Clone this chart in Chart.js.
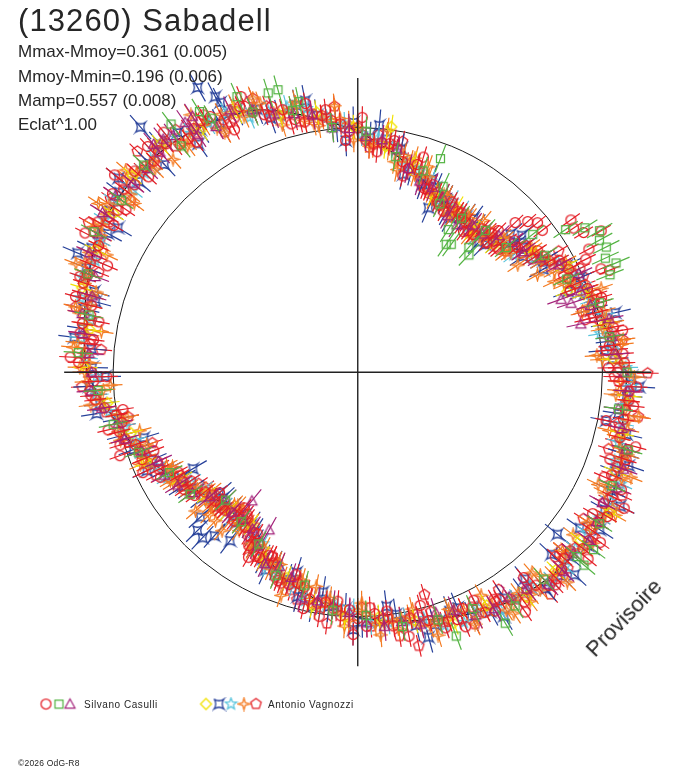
<!DOCTYPE html>
<html>
<head>
<meta charset="utf-8">
<script src="https://cdn.jsdelivr.net/npm/chart.js@4.4.1/dist/chart.umd.min.js"></script>
<style>
html, body { margin: 0; padding: 0; background: #fff; }
#wrap { position: relative; width: 688px; height: 768px; overflow: hidden;
        font-family: "Liberation Sans", Arial, sans-serif; color: #262626; }
#wrap canvas { position: absolute; left: 0; top: 0; }
.t { position: absolute; white-space: nowrap; }
#titre { left: 18px; top: 5px; font-size: 31px; line-height: 31px; letter-spacing: 1.1px; }
.stat { left: 18px; font-size: 17px; line-height: 17px; }
.leg { top: 700px; font-size: 10px; line-height: 10px; letter-spacing: 0.55px; }
#copy { left: 18px; top: 759px; font-size: 8.5px; line-height: 8.5px; letter-spacing: 0.2px; }
#provisoire { left: 575px; top: 607px; width: 98px; font-size: 22px; line-height: 22px;
              text-align: center; transform: rotate(-46deg); transform-origin: 50% 50%; }
</style>
</head>
<body>
<div id="wrap">
  <canvas id="myChart" width="688" height="768"></canvas>
  <div class="t" id="titre">(13260) Sabadell</div>
  <div class="t stat" style="top:43px">Mmax-Mmoy=0.361 (0.005)</div>
  <div class="t stat" style="top:68px">Mmoy-Mmin=0.196 (0.006)</div>
  <div class="t stat" style="top:92px">Mamp=0.557 (0.008)</div>
  <div class="t stat" style="top:116px">Eclat^1.00</div>
  <div class="t leg" style="left:84px">Silvano Casulli</div>
  <div class="t leg" style="left:268px">Antonio Vagnozzi</div>
  <div class="t" id="copy">©2026 OdG-R8</div>
  <div class="t" id="provisoire">Provisoire</div>
</div>
<script>
// phase en degres (0 en haut, sens horaire), rayon normalise (cercle = 1)

// Silvano Casulli
const cerclesRouges = [
  [0,.997],[4,.933],[8,.942],[12,.878],[16,.882],[20,.798],[24,.804],[28,.744],[32,.773],[36,.754],
  [40,.733],[44,.788],[48,.764],[52,.828],[56,.887],[60,.906],[64,.959],[68,.961],[72,1.027],[76,1.010],
  [80,1.060],[84,1.034],[88,1.090],[92,1.068],[96,1.114],[100,1.103],[104,1.104],[108,1.153],[112,1.119],[116,1.157],
  [120,1.178],[124,1.149],[128,1.168],[132,1.134],[136,1.171],[140,1.134],[144,1.158],[148,1.094],[152,1.109],[156,1.055],
  [160,1.081],[164,1.054],[168,1.025],[172,1.045],[176,.987],[180,1.005],[184,.996],[188,.947],[192,.946],[196,.894],
  [200,.915],[204,.852],[208,.856],[212,.776],[216,.782],[220,.722],[224,.782],[228,.785],[232,.793],[236,.856],
  [240,.840],[244,.904],[248,.951],[252,.955],[256,1.004],[260,1.002],[264,1.079],[268,1.082],[272,1.141],[276,1.101],
  [280,1.143],[284,1.121],[288,1.179],[292,1.180],[296,1.179],[300,1.226],[304,1.182],[308,1.214],[312,1.227],[316,1.198],
  [320,1.217],[324,1.177],[328,1.210],[332,1.166],[336,1.186],[340,1.118],[344,1.114],[348,1.044],[352,1.057],[356,1.016],
  [2,.948],[6,.943],[10,.927],[14,.857],[18,.833],[22,.825],[26,.758],[30,.778],[34,.760],[38,.733],
  [42,.779],[46,.771],[50,.837],[54,.827],[58,.893],[62,.942],[66,.943],[70,.999],[74,1.036],[78,1.012],
  [82,1.040],[86,1.086],[90,1.063],[94,1.111],[98,1.105],[102,1.093],[106,1.147],[110,1.131],[114,1.179],[118,1.137],
  [122,1.160],[126,1.168],[130,1.134],[134,1.158],[138,1.170],[142,1.123],[146,1.119],[150,1.125],[154,1.066],[158,1.088],
  [162,1.064],[166,1.029],[170,1.053],[174,1.011],[178,1.037],[182,.970],[186,.968],[190,.956],[194,.903],[198,.910],
  [202,.901],[206,.831],[210,.809],[214,.803],[218,.736],[222,.772],[226,.780],[230,.779],[234,.843],[238,.843],
  [242,.913],[246,.897],[250,.949],[254,.989],[258,.986],[262,1.046],[266,1.098],[270,1.089],[274,1.114],[278,1.146],
  [282,1.116],[286,1.170],[290,1.176],[294,1.169],[298,1.221],[302,1.199],[306,1.239],[310,1.190],[314,1.209],[318,1.217],
  [322,1.180],[326,1.199],[330,1.205],[334,1.153],[338,1.145],[342,1.140],[346,1.063],[350,1.070],[354,1.033],[358,.984],
  [1,1.040],[5,.903],[9,.957],[13,.822],[17,.918],[21,.802],[25,.768],[29,.794],[33,.776],[37,.718],
  [41,.775],[45,.746],[49,.764],[53,.858],[57,.849],[61,.941],[65,1.002],[69,.931],[73,1.042],[77,.954],
  [81,1.096],[85,1.021],[89,1.025],[93,1.141],[97,1.136],[101,1.034],[105,1.176],[109,1.090],[113,1.094],[117,1.222],
  [121,1.120],[125,1.210],[129,1.211],[133,1.104],[137,1.186],[141,1.078],[145,1.194],[149,1.081],[153,1.044],[157,1.128],
  [161,1.103],[165,.985],[169,1.097],[173,.982],[177,.962],[181,1.070],[185,.938],[189,1.008],[193,.989],[197,.864],
  [201,.910],[205,.827],[209,.859],[213,.780],[217,.746],[221,.772],[225,.785],[229,.749],[233,.835],[237,.814],
  [241,.840],[245,.969],[249,.893],[253,1.016],[257,1.047],[261,.972],[265,1.094],[269,1.026],[273,1.177],[277,1.088],
  [281,1.078],[285,1.194],[289,1.201],[293,1.111],[297,1.251],[301,1.163],[305,1.157],[309,1.279],[313,1.169],[317,1.259],
  [321,1.260],[325,1.147],[329,1.225],[333,1.110],[337,1.222],[341,1.105],[345,1.049],[349,1.117],[353,1.079],[357,.947],
  [46.5,.887],[48.5,.928],[50.3,.955],[52.5,.951],[44.8,.815],[54.5,1.07],[56.3,1.06],[58.3,1.085],[59.9,1.15],
  [62,1.07],[63.7,1.04],[67,1.08],[68,1.11],[212.2,.836],[210.6,.877],[219.8,.79],[250.7,1.03]
];
const carresVerts = [
  [2,.984],[10,.893],[18,.864],[26,.765],[34,.758],[42,.779],[50,.792],[58,.901],[66,.935],[74,1.028],
  [82,1.040],[90,1.101],[98,1.076],[106,1.150],[114,1.138],[122,1.166],[130,1.170],[138,1.136],[146,1.150],[154,1.073],
  [162,1.062],[170,1.053],[178,.992],[186,.976],[194,.895],[202,.893],[210,.809],[218,.774],[226,.751],[234,.846],
  [242,.872],[250,.955],[258,1.022],[266,1.064],[274,1.145],[282,1.123],[290,1.174],[298,1.221],[306,1.194],[314,1.217],
  [322,1.172],[330,1.197],[338,1.145],[346,1.101],[354,1.004],
  [55.6,1.03],[57.6,1.10],[59.7,1.145],[61.4,1.125],[63.3,1.137],[65.3,1.114],[67.1,1.146],[68.9,1.105],[51.8,.91],
  [21.2,.935],[24.7,.835],[34.7,.635],[36.2,.647],[43.5,.66],[41.7,.683],[32.4,.69],[344.2,1.198],[342.2,1.197],
  [336.3,1.228],[347.7,1.13],[323,1.268],[328.7,1.245],[159.5,1.149],[149.5,1.188],[130.4,1.214],[126.9,1.205]
];
const trianglesViolets = [
  [6,.954],[14,.856],[22,.814],[30,.737],[38,.763],[46,.802],[54,.837],[62,.933],[70,.969],[78,1.050],
  [86,1.054],[94,1.107],[102,1.104],[110,1.156],[118,1.132],[126,1.170],[134,1.169],[142,1.122],[150,1.114],[158,1.047],
  [166,1.059],[174,1.042],[182,.980],[190,.947],[198,.880],[206,.869],[214,.771],[222,.768],[230,.790],[238,.868],
  [246,.892],[254,.991],[262,1.057],[270,1.088],[278,1.135],[286,1.129],[294,1.199],[302,1.230],[310,1.200],[318,1.208],
  [326,1.169],[334,1.191],[342,1.108],[350,1.066],[358,.995],
  [2,.963],[10,.921],[18,.820],[26,.794],[34,.726],[42,.759],[50,.823],[58,.880],[66,.989],[74,.989],
  [82,1.050],[90,1.088],[98,1.075],[106,1.139],[114,1.160],[122,1.150],[130,1.149],[138,1.164],[146,1.106],[154,1.102],
  [162,1.030],[170,1.033],[178,1.023],[186,.955],[194,.949],[202,.854],[210,.819],[218,.761],[226,.750],[234,.835],
  [242,.894],[250,.939],[258,1.001],[266,1.092],[274,1.101],[282,1.152],[290,1.142],[298,1.201],[306,1.225],[314,1.196],
  [322,1.226],[330,1.158],[338,1.155],[346,1.088],[354,1.003],
  [327.1,1.244],[325.3,1.24],[318.1,1.25],[320.1,1.24],[70.3,.883],[72.1,.916],[77.8,.933],[219.5,.68],[209.4,.738]
];

// Antonio Vagnozzi
const losangesJaunes = [
  [7,.928],[15,.882],[23,.788],[31,.786],[39,.746],[47,.762],[55,.857],[63,.957],[71,.977],[79,1.028],
  [87,1.044],[95,1.114],[103,1.109],[111,1.127],[119,1.179],[127,1.139],[135,1.143],[143,1.148],[151,1.088],[159,1.096],
  [167,1.042],[175,1.002],[183,1.000],[191,.971],[199,.888],[207,.847],[215,.761],[223,.775],[231,.795],[239,.839],
  [247,.939],[255,.960],[263,1.031],[271,1.114],[279,1.109],[287,1.178],[295,1.182],[303,1.190],[311,1.220],[319,1.232],
  [327,1.177],[335,1.169],[343,1.098],[351,1.073],[359,1.000],
  [69,.917],[7.8,1.01]
];
const etoilesBleues = [
  [3,.958],[11,.928],[19,.812],[27,.791],[35,.773],[43,.726],[51,.819],[59,.888],[67,.987],[75,.992],
  [83,1.045],[91,1.118],[99,1.079],[107,1.135],[115,1.141],[123,1.180],[131,1.144],[139,1.171],[147,1.098],[155,1.099],
  [163,1.077],[171,1.000],[179,1.019],[187,.963],[195,.947],[203,.857],[211,.814],[219,.791],[227,.754],[235,.831],
  [243,.875],[251,.969],[259,.996],[267,1.099],[275,1.093],[283,1.149],[291,1.189],[299,1.168],[307,1.221],[315,1.204],
  [323,1.224],[331,1.161],[339,1.150],[347,1.118],[355,1.007],
  [7,.959],[15,.854],[23,.817],[31,.734],[39,.764],[47,.782],[55,.824],[63,.959],[71,.982],[79,1.036],
  [87,1.043],[95,1.103],[103,1.128],[111,1.127],[119,1.154],[127,1.175],[135,1.174],[143,1.120],[151,1.117],[159,1.044],
  [167,1.060],[175,1.022],[183,.967],[191,.973],[199,.893],[207,.855],[215,.760],[223,.764],[231,.814],[239,.839],
  [247,.914],[255,.996],[263,1.062],[271,1.086],[279,1.138],[287,1.126],[295,1.200],[303,1.210],[311,1.187],[319,1.234],
  [327,1.182],[335,1.177],[343,1.097],[351,1.062],[359,1.019],
  [5,1.011],[13,.829],[21,.842],[29,.752],[37,.785],[45,.736],[53,.848],[61,.867],[69,.921],[77,1.080],
  [85,1.012],[93,1.152],[101,1.034],[109,1.172],[117,1.204],[125,1.108],[133,1.212],[141,1.085],[149,1.161],[157,1.043],
  [165,1.119],[173,.962],[181,1.050],[189,.908],[197,.854],[205,.890],[213,.776],[221,.778],[229,.749],[237,.855],
  [245,.951],[253,.914],[261,1.080],[269,1.033],[277,1.168],[285,1.109],[293,1.245],[301,1.143],[309,1.259],[317,1.159],
  [325,1.137],[333,1.236],[341,1.096],[349,1.128],[357,.947],
  [318.4,1.337],[330.6,1.333],[332.6,1.266],[47.9,.84],[50.2,.873],[23.3,.73],[129,1.05],[133.2,1.085],
  [225.4,.92],[223.2,.927],[221.3,.888],[217.2,.863],[227.4,.873],[239.7,.78]
];
const etoilesCyan = [
  [5,.959],[13,.864],[21,.835],[29,.798],[37,.740],[45,.770],[53,.796],[61,.934],[69,.974],[77,1.028],
  [85,1.040],[93,1.120],[101,1.100],[109,1.111],[117,1.161],[125,1.145],[133,1.160],[141,1.120],[149,1.131],[157,1.109],
  [165,1.040],[173,1.027],[181,.973],[189,.975],[197,.907],[205,.870],[213,.782],[221,.774],[229,.782],[237,.814],
  [245,.908],[253,.951],[261,1.028],[269,1.068],[277,1.138],[285,1.175],[293,1.166],[301,1.208],[309,1.182],[317,1.226],
  [325,1.190],[333,1.184],[341,1.124],[349,1.096],[357,1.013],
  [1,.973],[9,.935],[17,.855],[25,.773],[33,.784],[41,.738],[49,.800],[57,.852],[65,.969],[73,1.001],
  [81,1.004],[89,1.096],[97,1.107],[105,1.103],[113,1.168],[121,1.155],[129,1.144],[137,1.164],[145,1.131],[153,1.078],
  [161,1.092],[169,1.030],[177,1.023],[185,.961],[193,.956],[201,.889],[209,.800],[217,.788],[225,.775],[233,.792],
  [241,.889],[249,.928],[257,.980],[265,1.072],[273,1.114],[281,1.112],[289,1.190],[297,1.184],[305,1.218],[313,1.192],
  [321,1.227],[329,1.184],[337,1.130],[345,1.120],[353,1.050]
];
const etoilesOrange = [
  [2,.946],[6,.942],[10,.872],[14,.884],[18,.839],[22,.796],[26,.805],[30,.739],[34,.759],[38,.766],
  [42,.747],[46,.790],[50,.788],[54,.871],[58,.886],[62,.961],[66,.941],[70,.998],[74,.981],[78,1.039],
  [82,1.046],[86,1.057],[90,1.110],[94,1.072],[98,1.104],[102,1.126],[106,1.115],[110,1.150],[114,1.130],[118,1.181],
  [122,1.153],[126,1.187],[130,1.132],[134,1.157],[138,1.115],[142,1.150],[146,1.125],[150,1.096],[154,1.113],[158,1.049],
  [162,1.063],[166,1.062],[170,1.021],[174,1.030],[178,.988],[182,1.014],[186,.961],[190,.975],[194,.901],[198,.909],
  [202,.846],[206,.858],[210,.815],[214,.774],[218,.783],[222,.733],[226,.779],[230,.812],[234,.811],[238,.862],
  [242,.864],[246,.941],[250,.942],[254,1.008],[258,.984],[262,1.045],[266,1.043],[270,1.116],[274,1.120],[278,1.117],
  [282,1.163],[286,1.131],[290,1.175],[294,1.202],[298,1.189],[302,1.218],[306,1.190],[310,1.234],[314,1.202],[318,1.236],
  [322,1.178],[326,1.198],[330,1.150],[334,1.180],[338,1.151],[342,1.111],[346,1.110],[350,1.031],[354,1.032],[358,1.017],
  [0,.999],[4,.927],[8,.922],[12,.904],[16,.839],[20,.848],[24,.791],[28,.751],[32,.767],[36,.776],
  [40,.728],[44,.769],[48,.808],[52,.794],[56,.876],[60,.905],[64,.961],[68,.955],[72,1.007],[76,1.036],
  [80,1.017],[84,1.084],[88,1.077],[92,1.075],[96,1.108],[100,1.125],[104,1.099],[108,1.134],[112,1.163],[116,1.123],
  [120,1.167],[124,1.148],[128,1.170],[132,1.128],[136,1.151],[140,1.160],[144,1.115],[148,1.144],[152,1.096],[156,1.062],
  [160,1.075],[164,1.076],[168,1.020],[172,1.026],[176,1.031],[180,.971],[184,.985],[188,.946],[192,.948],[196,.888],
  [200,.895],[204,.878],[208,.813],[212,.826],[216,.769],[220,.729],[224,.776],[228,.807],[232,.788],[236,.837],
  [240,.884],[244,.870],[248,.940],[252,.954],[256,1.006],[260,.996],[264,1.059],[268,1.108],[272,1.098],[276,1.151],
  [280,1.130],[284,1.128],[288,1.173],[292,1.202],[296,1.174],[300,1.207],[304,1.226],[308,1.180],[312,1.216],[316,1.197],
  [320,1.219],[324,1.171],[328,1.190],[332,1.192],[336,1.143],[340,1.168],[344,1.101],[348,1.051],[352,1.051],[356,1.038],
  [3,.923],[7,.996],[11,.842],[15,.904],[19,.886],[23,.774],[27,.805],[31,.745],[35,.786],[39,.722],
  [43,.771],[47,.807],[51,.774],[55,.870],[59,.874],[63,.903],[67,.918],[71,1.052],[75,.951],[79,1.059],
  [83,1.093],[87,1.001],[91,1.131],[95,1.059],[99,1.163],[103,1.056],[107,1.154],[111,1.196],[115,1.084],[119,1.204],
  [123,1.123],[127,1.102],[131,1.109],[135,1.211],[139,1.085],[143,1.170],[147,1.172],[151,1.040],[155,1.134],[159,1.036],
  [163,1.122],[167,.992],[171,1.060],[175,1.076],[179,.942],[183,1.037],[187,.931],[191,.890],[195,.878],[199,.963],
  [203,.845],[207,.860],[211,.837],[215,.752],[219,.783],[223,.739],[227,.806],[231,.768],[235,.835],[239,.879],
  [243,.850],[247,.964],[251,.912],[255,.923],[259,.961],[263,1.099],[267,1.013],[271,1.136],[275,1.167],[279,1.061],
  [283,1.184],[287,1.118],[291,1.234],[295,1.132],[299,1.228],[303,1.264],[307,1.144],[311,1.257],[315,1.172],[319,1.151],
  [323,1.155],[327,1.252],[331,1.120],[335,1.200],[339,1.198],[343,1.055],[347,1.131],[351,1.018],[355,1.091],[359,.947],
  [56.2,.787],[61.6,.835],[65.3,.884],[39.7,.804],[86,.98],[226.2,.84],[220.6,.852],[216.9,.808],[229.5,.872],[223.8,.84]
];
const pentagonesRouges = [
  [1,.970],[9,.937],[17,.856],[25,.770],[33,.771],[41,.737],[49,.816],[57,.866],[65,.928],[73,1.012],
  [81,1.052],[89,1.068],[97,1.104],[105,1.092],[113,1.161],[121,1.158],[129,1.141],[137,1.166],[145,1.132],[153,1.075],
  [161,1.079],[169,1.029],[177,1.039],[185,.975],[193,.915],[201,.900],[209,.848],[217,.760],[225,.772],[233,.781],
  [241,.882],[249,.931],[257,.977],[265,1.074],[273,1.115],[281,1.109],[289,1.177],[297,1.183],[305,1.234],[313,1.206],
  [321,1.186],[329,1.195],[337,1.178],[345,1.092],[353,1.047],
  [5,.973],[13,.875],[21,.795],[29,.785],[37,.755],[45,.749],[53,.849],[61,.909],[69,.996],[77,.988],
  [85,1.064],[93,1.096],[101,1.086],[109,1.153],[117,1.149],[125,1.173],[133,1.174],[141,1.131],[149,1.091],[157,1.096],
  [165,1.055],[173,1.006],[181,1.026],[189,.950],[197,.929],[205,.830],[213,.806],[221,.750],[229,.768],[237,.856],
  [245,.896],[253,.979],[261,1.042],[269,1.079],[277,1.098],[285,1.162],[293,1.181],[301,1.187],[309,1.235],[317,1.201],
  [325,1.212],[333,1.144],[341,1.148],[349,1.072],[357,.999],
  [3,.918],[11,.958],[19,.804],[27,.805],[35,.736],[43,.786],[51,.783],[59,.958],[67,1.001],[75,.951],
  [83,1.091],[91,1.049],[99,1.161],[107,1.072],[115,1.192],[123,1.099],[131,1.104],[139,1.201],[147,1.058],[155,1.134],
  [163,1.022],[171,1.090],[179,.960],[187,1.033],[195,.961],[203,.845],[211,.836],[219,.742],[227,.805],[235,.794],
  [243,.926],[251,.888],[259,.956],[267,1.129],[275,1.053],[283,1.184],[291,1.134],[299,1.258],[307,1.162],[315,1.274],
  [323,1.238],[331,1.120],[339,1.196],[347,1.049],[355,1.089],
  [163.3,.948],[167.4,1.144],[90.2,1.185]
];

// courbe ajustee
const phaseFit = [0,10,20,30,40,50,60,70,80,90,100,110,120,130,140,150,160,170,
                  180,190,200,210,220,230,240,250,260,270,280,290,300,310,320,330,340,350];
const rayonFit = [0.985,0.90,0.82,0.76,0.745,0.80,0.915,0.995,1.03,1.095,1.10,1.14,1.16,1.155,1.14,1.11,1.065,1.03,
                  1.00,0.945,0.89,0.81,0.75,0.79,0.865,0.95,1.02,1.105,1.135,1.17,1.205,1.21,1.205,1.18,1.14,1.055];

const CX = 358, CY = 372, RPX = 249;   // centre et rayon du cercle en pixels
const AXE = 1.2;

const rouge = '#e41e26', vert = '#55b444', violet = '#a3227a', jaune = '#f2e200',
      bleu = '#27419a', cyan = '#58c4dc', orange = '#f47a20';

function marqueur(forme, couleur) {
    const c = document.createElement('canvas');
    c.width = 15; c.height = 15;
    const g = c.getContext('2d');
    g.strokeStyle = couleur;
    g.lineWidth = 1.25;
    g.translate(7.5, 7.5);
    g.beginPath();
    if (forme === 'cercle') {
        g.arc(0, 0, 5, 0, 2 * Math.PI);
    } else if (forme === 'carre') {
        g.rect(-4, -4, 8, 8);
    } else if (forme === 'triangle') {
        g.moveTo(0, -5); g.lineTo(5, 4); g.lineTo(-5, 4); g.closePath();
    } else if (forme === 'losange') {
        g.moveTo(0, -5.5); g.lineTo(5.5, 0); g.lineTo(0, 5.5); g.lineTo(-5.5, 0); g.closePath();
    } else if (forme === 'concave') {
        g.moveTo(-5, -5);
        g.quadraticCurveTo(0, -1.5, 5, -5);
        g.quadraticCurveTo(1.5, 0, 5, 5);
        g.quadraticCurveTo(0, 1.5, -5, 5);
        g.quadraticCurveTo(-1.5, 0, -5, -5);
    } else if (forme === 'etoile5') {
        for (let k = 0; k < 10; k++) {
            const a = -Math.PI / 2 + k * Math.PI / 5, rr = k % 2 ? 2.6 : 6;
            k ? g.lineTo(rr * Math.cos(a), rr * Math.sin(a)) : g.moveTo(rr * Math.cos(a), rr * Math.sin(a));
        }
        g.closePath();
    } else if (forme === 'etoile4') {
        for (let k = 0; k < 8; k++) {
            const a = -Math.PI / 2 + k * Math.PI / 4, rr = k % 2 ? 1.8 : 6;
            k ? g.lineTo(rr * Math.cos(a), rr * Math.sin(a)) : g.moveTo(rr * Math.cos(a), rr * Math.sin(a));
        }
        g.closePath();
    } else if (forme === 'pentagone') {
        for (let k = 0; k < 5; k++) {
            const a = -Math.PI / 2 + k * 2 * Math.PI / 5;
            k ? g.lineTo(5.5 * Math.cos(a), 5.5 * Math.sin(a)) : g.moveTo(5.5 * Math.cos(a), 5.5 * Math.sin(a));
        }
        g.closePath();
    }
    g.stroke();
    return c;
}

const enXY = (ph, r) => ({ x: r * Math.sin(ph * Math.PI / 180), y: r * Math.cos(ph * Math.PI / 180), ph: ph, r: r });

// ordre = ordre d'empilement (1 = dessus)
const series = [
    { pts: carresVerts, forme: 'carre', couleur: vert, err: 0.06, ordre: 1 },
    { pts: trianglesViolets, forme: 'triangle', couleur: violet, err: 0.06, ordre: 2 },
    { pts: cerclesRouges, forme: 'cercle', couleur: rouge, err: 0.045, ordre: 3 },
    { pts: losangesJaunes, forme: 'losange', couleur: jaune, err: 0.05, ordre: 4 },
    { pts: etoilesOrange, forme: 'etoile4', couleur: orange, err: 0.05, ordre: 5 },
    { pts: etoilesCyan, forme: 'etoile5', couleur: cyan, err: 0.05, ordre: 6 },
    { pts: etoilesBleues, forme: 'concave', couleur: bleu, err: 0.065, ordre: 7 },
    { pts: pentagonesRouges, forme: 'pentagone', couleur: rouge, err: 0.045, ordre: 8 }
];

const jeux = series.map(s => ({
    data: s.pts.map(p => enXY(p[0], p[1])),
    pointStyle: marqueur(s.forme, s.couleur),
    pointRadius: 5,
    showLine: false,
    erreur: s.err,
    couleur: s.couleur,
    order: s.ordre
}));

const fit = phaseFit.map((ph, i) => enXY(ph, rayonFit[i]));
fit.push(fit[0]);
jeux.push({
    data: fit,
    showLine: true,
    borderColor: '#111',
    borderWidth: 1.2,
    pointRadius: 0,
    tension: 0.3,
    order: 20
});

const legende = [
    ['cercle', rouge, 46], ['carre', vert, 59], ['triangle', violet, 70],
    ['losange', jaune, 206], ['concave', bleu, 219], ['etoile5', cyan, 231],
    ['etoile4', orange, 244], ['pentagone', rouge, 256]
];

const fondPolaire = {
    id: 'fondPolaire',
    beforeDatasetsDraw(chart) {
        const { ctx, scales: { x, y } } = chart;
        const cx = x.getPixelForValue(0), cy = y.getPixelForValue(0);
        const rp = x.getPixelForValue(1) - cx;
        ctx.save();
        ctx.strokeStyle = '#1a1a1a';
        ctx.lineWidth = 1;
        ctx.beginPath();
        ctx.arc(cx, cy, rp, 0, 2 * Math.PI);
        ctx.stroke();
        ctx.restore();
    },
    beforeDatasetDraw(chart, args) {
        const ds = chart.data.datasets[args.index];
        if (!ds.erreur) return;
        const { ctx, scales: { x, y } } = chart;
        ctx.save();
        ctx.strokeStyle = ds.couleur;
        ctx.lineWidth = 1.2;
        ctx.beginPath();
        ds.data.forEach(p => {
            const a = enXY(p.ph, p.r - ds.erreur), b = enXY(p.ph, p.r + ds.erreur);
            ctx.moveTo(x.getPixelForValue(a.x), y.getPixelForValue(a.y));
            ctx.lineTo(x.getPixelForValue(b.x), y.getPixelForValue(b.y));
        });
        ctx.stroke();
        ctx.restore();
    },
    afterDatasetsDraw(chart) {
        const { ctx, scales: { x, y } } = chart;
        const cx = x.getPixelForValue(0), cy = y.getPixelForValue(0);
        ctx.save();
        ctx.strokeStyle = '#222';
        ctx.lineWidth = 1.4;
        ctx.beginPath();
        ctx.moveTo(x.getPixelForValue(-AXE), cy);
        ctx.lineTo(x.getPixelForValue(AXE), cy);
        ctx.moveTo(cx, y.getPixelForValue(AXE));
        ctx.lineTo(cx, y.getPixelForValue(-AXE));
        ctx.stroke();
        ctx.restore();
    },
    afterDraw(chart) {
        const ctx = chart.ctx;
        legende.forEach(l => {
            ctx.drawImage(marqueur(l[0], l[1]), l[2] - 7.5, 704 - 7.5);
        });
    }
};

const ctx = document.getElementById('myChart').getContext('2d');
const myChart = new Chart(ctx, {
    type: 'scatter',
    data: { datasets: jeux },
    options: {
        responsive: false,
        animation: false,
        events: [],
        layout: { padding: 0 },
        plugins: { legend: { display: false }, tooltip: { enabled: false } },
        scales: {
            x: { type: 'linear', display: false, min: -CX / RPX, max: (688 - CX) / RPX },
            y: { type: 'linear', display: false, min: -(768 - CY) / RPX, max: CY / RPX }
        }
    },
    plugins: [fondPolaire]
});
</script>
</body>
</html>
